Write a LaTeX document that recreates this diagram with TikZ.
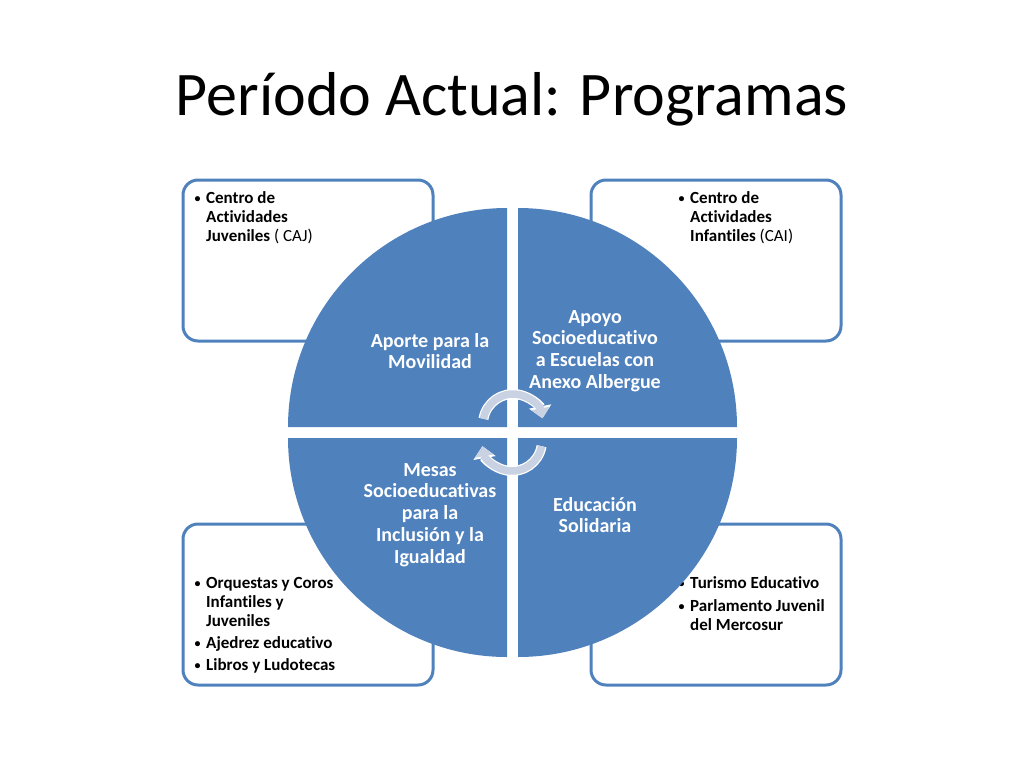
\documentclass[tikz,border=0pt]{standalone}
\usepackage{fontspec}
\setmainfont{Carlito}[Ligatures=NoCommon]
\usetikzlibrary{arrows.meta}
\definecolor{quadblue}{HTML}{4F81BD}
\definecolor{cycfill}{HTML}{C9D2E3}
\newcommand\itm{\makebox[11pt][l]{\hspace*{-0.5pt}\raisebox{1pt}{\fontsize{12}{12}\selectfont\textbullet}}}
\newcommand\ind{\hspace*{11pt}}
\begin{document}
\begin{tikzpicture}[x=1pt,y=-1pt,
    box/.style={draw=quadblue, line width=3pt, rounded corners=15pt, fill=white, minimum width=250pt, minimum height=161pt},
    boxtext/.style={anchor=north west, inner sep=0pt, align=left, font=\fontsize{17}{19}\selectfont\bfseries},
    quad/.style={fill=quadblue},
    quadtext/.style={text=white, align=center, font=\fontsize{20}{21.8}\selectfont\bfseries},
    cyc/.style={draw=cycfill, line width=7.5pt, -{Triangle[width=18pt,length=10pt]},
        preaction={draw=white, line width=10pt, -{Triangle[width=22pt,length=12pt]}}}]
    \useasboundingbox (0,0) rectangle (1024,768);
    \node[anchor=base, font=\fontsize{62}{75}\selectfont] (title) at (512,115) {Período Actual: Programas};
    % outer boxes
    \node[box] (boxCAJ) at (308,260.5) {};
    \node[box] (boxCAI) at (716,260.5) {};
    \node[box] (boxOrq) at (308,604.5) {};
    \node[box] (boxTur) at (716,604.5) {};
    \node[boxtext] (txtCAJ) at (195,191.5) {\itm Centro de\\ \ind Actividades\\ \ind Juveniles {\mdseries ( CAJ)}};
    \node[boxtext] (txtCAI) at (679,191.5) {\itm Centro de\\ \ind Actividades\\ \ind Infantiles {\mdseries (CAI)}};
    \node[boxtext] (txtOrq) at (195,577.5) {\itm Orquestas y Coros\\ \ind Infantiles y\\ \ind Juveniles\\[3pt] \itm Ajedrez educativo\\[3pt] \itm Libros y Ludotecas};
    \node[boxtext] (txtTur) at (679,576.5) {\itm Turismo Educativo\\[4pt] \itm Parlamento Juvenil\\ \ind del Mercosur};
    % quarter circles
    \foreach \cx/\cy/\a in {507/427/180, 518/427/270, 518/438/0, 507/438/90}
        \fill[quad] (\cx,\cy) -- ++(\a:219) arc (\a:\a+90:219) -- cycle;
    \node[quadtext] (movil) at (430,351) {Aporte para la\\Movilidad};
    \node[quadtext] (apoyo) at (595,351) {Apoyo\\Socioeducativo\\a Escuelas con\\Anexo Albergue};
    \node[quadtext] (mesas) at (430,515) {Mesas\\Socioeducativas\\para la\\Inclusión y la\\Igualdad};
    \node[quadtext] (solid) at (595,515) {Educación\\Solidaria};
    % cycle arrows
    \coordinate (cycTop) at (513,424);
    \coordinate (cycBot) at (512,441);
    \draw[cyc] (cycTop) ++(190:30) arc (190:349:30);
    \draw[cyc] (cycBot) ++(10:30) arc (10:170:30);
\end{tikzpicture}
\end{document}
